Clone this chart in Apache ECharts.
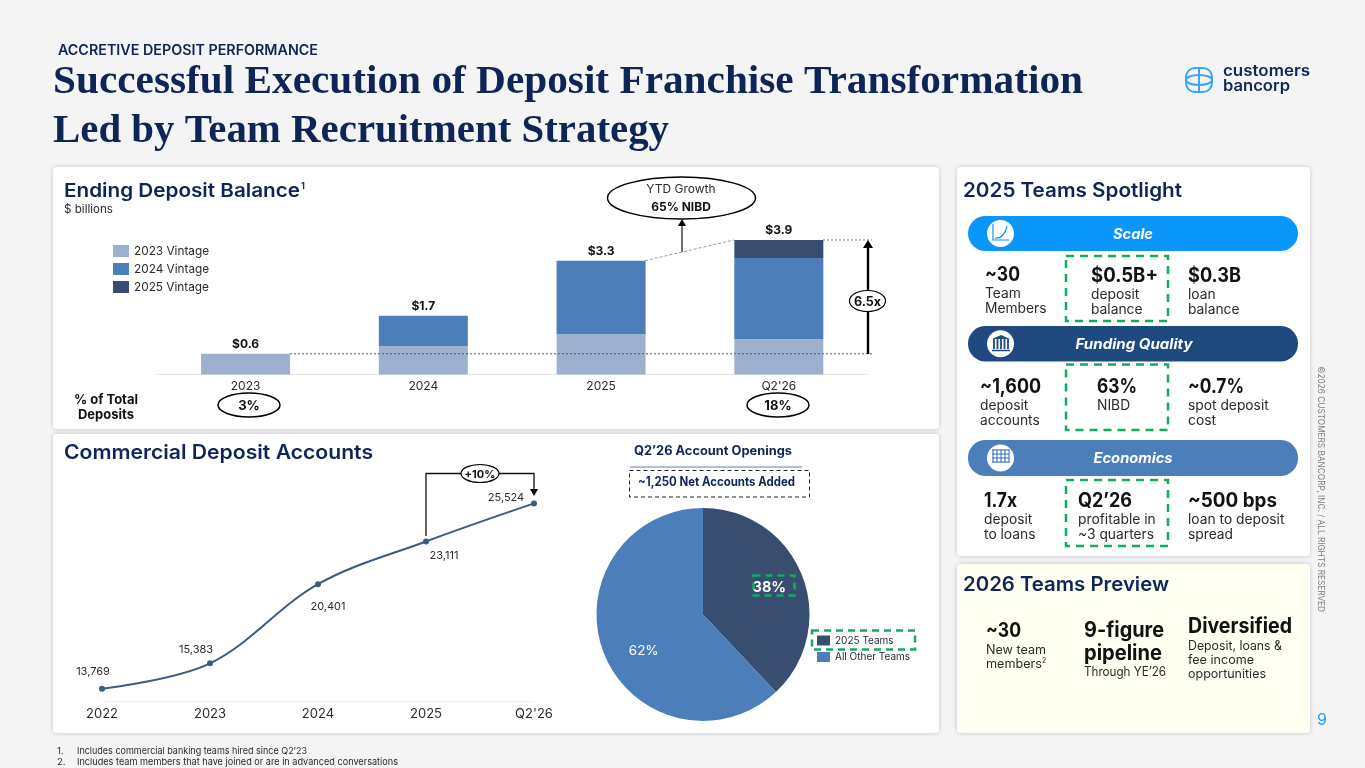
<!DOCTYPE html>
<html><head><meta charset="utf-8">
<style>html,body{margin:0;padding:0;background:#f4f4f4}#c{width:1365px;height:768px}</style>
<script src="https://cdn.jsdelivr.net/npm/echarts@6/dist/echarts.min.js"></script>
</head><body><div id="c"></div>
<script>
const barCategories = ['2023','2024','2025',"Q2'26"];
const vintage2023 = [0.6,0.82,1.17,1.03];
const vintage2024 = [0,0.88,2.13,2.35];
const vintage2025 = [0,0,0,0.52];
const barTotals = [0.6,1.7,3.3,3.9];
const lineCategories = ['2022','2023','2024','2025',"Q2'26"];
const accounts = [13769,15383,20401,23111,25524];
const pieNames = ['2025 Teams','All Other Teams'];
const pieValues = [38,62];

const NAVY='#0f2557', DARK='#384e70', BLUE='#4c7fba', LIGHT='#9db0ce', GREEN='#13ab5d', INK='#111111', SOFT='#2b2b2b';
const FF='Inter, "Open Sans", sans-serif';
const chart = echarts.init(document.getElementById('c'),null,{renderer:'canvas'});
const lineLabelOffset=[[-9,-5],[-14,-1],[10,35],[18,27],[-28,7]];

chart.setOption({
  animation:false,
  backgroundColor:'#f4f4f4',
  textStyle:{fontFamily:FF},
  legend:[
    {data:['2023 Vintage','2024 Vintage','2025 Vintage'],orient:'vertical',left:108,top:240,itemWidth:16,itemHeight:12,itemGap:6,icon:'rect',
     textStyle:{fontSize:11.8,color:SOFT,fontFamily:FF},selectedMode:false},
    {data:pieNames,orient:'vertical',left:812,top:630.5,itemWidth:13,itemHeight:10,itemGap:6.5,icon:'rect',
     textStyle:{fontSize:10,color:SOFT,fontFamily:FF},selectedMode:false}
  ],
  grid:[
    {left:156.7,top:202,width:711,height:172.5},
    {left:48,top:480,width:540,height:221.7}
  ],
  xAxis:[
    {type:'category',gridIndex:0,data:barCategories,axisTick:{show:false},axisLine:{lineStyle:{color:'#e6e6e6'}},
     axisLabel:{fontSize:12,color:SOFT,margin:6,fontFamily:FF}},
    {type:'category',gridIndex:1,data:lineCategories,axisTick:{show:false},axisLine:{show:false},
     axisLabel:{fontSize:13,color:SOFT,margin:6,fontFamily:FF}}
  ],
  yAxis:[
    {type:'value',gridIndex:0,min:0,max:5,show:false},
    {type:'value',gridIndex:1,min:12950,max:27009,show:false}
  ],
  series:[
    {name:'2023 Vintage',type:'bar',stack:'v',xAxisIndex:0,yAxisIndex:0,barWidth:89,data:vintage2023,itemStyle:{color:LIGHT}},
    {name:'2024 Vintage',type:'bar',stack:'v',xAxisIndex:0,yAxisIndex:0,barWidth:89,data:vintage2024,itemStyle:{color:BLUE}},
    {name:'2025 Vintage',type:'bar',stack:'v',xAxisIndex:0,yAxisIndex:0,barWidth:89,data:vintage2025,itemStyle:{color:DARK}},
    {name:'Total',type:'line',xAxisIndex:0,yAxisIndex:0,data:barTotals,symbol:'circle',symbolSize:1,showSymbol:true,
     itemStyle:{color:'rgba(0,0,0,0)'},lineStyle:{opacity:0},z:5,
     label:{show:true,position:'top',distance:3,fontSize:12,fontWeight:700,color:INK,fontFamily:FF,formatter:p=>'$'+p.value.toFixed(1)}},
    {name:'Accounts',type:'line',xAxisIndex:1,yAxisIndex:1,smooth:0.35,symbol:'circle',symbolSize:6,
     lineStyle:{color:'#3d5a80',width:2},itemStyle:{color:'#3d5a80'},
     data:accounts.map((v,i)=>({value:v,label:{offset:lineLabelOffset[i]}})),
     label:{show:true,position:'top',distance:4,fontSize:11,color:SOFT,fontFamily:FF,
       formatter:p=>p.value.toLocaleString('en-US')}},
    {name:'Openings',type:'pie',center:[703,614.4],radius:[0,106.5],startAngle:90,clockwise:true,silent:true,
     data:pieNames.map((n,i)=>({name:n,value:pieValues[i],itemStyle:{color:i?BLUE:DARK},
        label:i?{fontSize:13.5,fontWeight:400}:{fontSize:14.5,fontWeight:700}})),
     label:{show:true,position:'inside',formatter:p=>p.value+'%',color:'#fff',fontFamily:FF},
     labelLine:{show:false},
     labelLayout:p=>p.dataIndex===0?{dx:7,dy:-3}:{dx:-3.5,dy:8},
     emphasis:{disabled:true}}
  ]
});

const ctx=document.createElement('canvas').getContext('2d');
const g=[];
function T(x,y,text,size,weight,color,opt){
  opt=opt||{};
  const font=(opt.italic?'italic ':'')+weight+' '+size+'px '+(opt.ff||FF);
  let sx=1;
  if(opt.w){ctx.font=font;sx=opt.w/ctx.measureText(text).width;}
  g.push({type:'text',x:x+(opt.rot?0.8:0),y:y+(opt.rot?0:0.8),scaleX:sx,rotation:opt.rot||0,z:opt.z||60,silent:true,
    style:{text,font,fill:color,textAlign:opt.a||'left',textVerticalAlign:'middle',align:opt.a||'left',verticalAlign:'middle'}});
}
function R(x,y,w,h,r,fill,extra){
  g.push({type:'rect',z:(extra&&extra.z)||-5,silent:true,shape:{x,y,width:w,height:h,r},
    style:Object.assign({fill},extra&&extra.style||{})});
}
function dashBox(x,y,w,h,col,lw,dash){
  g.push({type:'rect',z:55,silent:true,shape:{x,y,width:w,height:h},style:{fill:'none',stroke:col,lineWidth:lw,lineDash:dash}});
}
function L(x1,y1,x2,y2,col,lw,dash,z){
  g.push({type:'line',z:z||40,silent:true,shape:{x1,y1,x2,y2},style:{stroke:col,lineWidth:lw,lineDash:dash||null}});
}
function E(cx,cy,rx,ry,lw){
  g.push({type:'ellipse',z:50,silent:true,shape:{cx,cy,rx,ry},style:{fill:'#fff',stroke:'#000',lineWidth:lw||1.5}});
}
function Tri(pts,fill){g.push({type:'polygon',z:45,silent:true,shape:{points:pts},style:{fill:fill||'#000'}});}
const shadow={shadowBlur:4,shadowColor:'rgba(60,70,100,0.28)',shadowOffsetY:0};
// panels
[[53,167,886,262,'#fff'],[53,434,886,299,'#fff'],[957,167,353,389,'#fff'],[957,564,353,169,'#fffff2']].forEach(p=>
  R(p[0],p[1],p[2],p[3],4,p[4],{style:shadow}));

// header
T(58,50,'ACCRETIVE DEPOSIT PERFORMANCE',14,600,NAVY,{w:260});
const SF='"Liberation Serif", serif';
T(53,82,'Successful Execution of Deposit Franchise Transformation',40,700,NAVY,{ff:SF,w:1030});
T(53,131,'Led by Team Recruitment Strategy',40,700,NAVY,{ff:SF,w:616});
// logo
const LB='#3aa6f5';
g.push({type:'rect',z:30,silent:true,shape:{x:1186,y:68,width:26,height:24,r:9},style:{fill:'none',stroke:LB,lineWidth:2}});
g.push({type:'ellipse',z:30,silent:true,shape:{cx:1199,cy:80,rx:13,ry:5},style:{fill:'none',stroke:LB,lineWidth:2}});
L(1199,68,1199,92,LB,2,null,30);
T(1223,71,'customers',15.5,600,NAVY,{w:87});
T(1223,86,'bancorp',15.5,600,NAVY,{w:67});

// panel 1
T(64,190,'Ending Deposit Balance',19,600,NAVY,{w:236});
T(301,185,'1',9,700,NAVY);
T(64,209,'$ billions',11.5,400,SOFT,{w:49});
T(106,399,'% of Total',13,700,INK,{a:'center'});
T(106,414,'Deposits',13,700,INK,{a:'center'});
E(249,405,31,12);T(249,405,'3%',13,700,INK,{a:'center'});
E(778,405,31,12);T(778,405,'18%',13,700,INK,{a:'center'});
const by=v=>chart.convertToPixel({yAxisIndex:0},v);
const y06=by(barTotals[0]), y33=by(barTotals[2]), y39=by(barTotals[3]);
L(290,y06,872,y06,'#4a5a78',1,[2,2]);
L(823,y39,872,y39,'#777',1,[2,2]);
L(645,y33,734,y39,'#999',1,[3,2]);
// YTD callout
L(682,252,682,226,'#222',1.3);Tri([[682,219],[678,226],[686,226]]);
E(681.5,198,74,21);
T(681,189,'YTD Growth',12,400,SOFT,{a:'center'});
T(681,207,'65% NIBD',12,700,INK,{a:'center'});
// 6.5x
L(868,354,868,246,'#000',2.4);Tri([[868,240],[863,248],[873,248]]);
E(867.5,301,18,10.5,1.2);T(867.5,301,'6.5x',12.5,700,INK,{a:'center'});

// panel 2
T(64,452,'Commercial Deposit Accounts',20,600,NAVY,{w:309});
L(102,701.7,534,701.7,'#ececec',1,null,3);
g.push({type:'polyline',z:40,silent:true,shape:{points:[[426,536],[426,473.5],[534,473.5],[534,489]]},style:{stroke:'#111',lineWidth:1.3,fill:'none'}});
Tri([[534,496],[530,489],[538,489]]);
E(480,473.5,19,9,1.2);T(480,473.5,'+10%',11,700,INK,{a:'center'});
T(634,450.5,"Q2\u201926 Account Openings",12.5,700,NAVY,{w:158});
L(630,467,802,467,'#3d5a8a',0.8);
dashBox(629.5,470.5,180,26.5,'#222',1,[4,3]);
T(638,481.5,'~1,250 Net Accounts Added',12.5,700,NAVY,{w:157});
dashBox(753.5,575.5,41,20,GREEN,2.5,[7,5]);
dashBox(812,630.5,103,19,GREEN,2.5,[7,5]);

// footnotes
T(57,750,'1.',9.5,400,SOFT);
T(77,750,"Includes commercial banking teams hired since Q2\u201923",9.5,400,SOFT,{w:230});
T(57,761,'2.',9.5,400,SOFT);
T(77,761,'Includes team members that have joined or are in advanced conversations',9.5,400,SOFT,{w:321});

// right panel
T(963,190,'2025 Teams Spotlight',19.5,600,NAVY,{w:219});
const pills=[[216,35,'#0a96fb','Scale',1133,40],[326,35.5,'#1f4a80','Funding Quality',1134,117],[440,36,'#4c7fba','Economics',1133,79]];
pills.forEach(p=>{
  R(968,p[0],330,p[1],17.5,p[2],{z:5});
  T(p[4],p[0]+p[1]/2,p[3],14,700,'#fff',{a:'center',italic:true,w:p[5]});
  g.push({type:'circle',z:10,silent:true,shape:{cx:1000.5,cy:p[0]+p[1]/2,r:13.5},style:{fill:'#fff'}});
});
// icons
g.push({type:'polyline',z:12,silent:true,shape:{points:[[993,224],[993,240],[1009,240]]},style:{stroke:'#0a96fb',lineWidth:1.2,fill:'none'}});
g.push({type:'polyline',z:12,silent:true,shape:{smooth:0.5,points:[[995,238],[1002,236],[1007,226]]},style:{stroke:'#0a96fb',lineWidth:1.2,fill:'none'}});
[994,997.5,1001,1004.5,1008].forEach(x=>L(x,339,x,349,'#1f4a80',1.8,null,12));
Tri([[1001,335],[992,339],[1010,339]],'#1f4a80');L(992,350.5,1010,350.5,'#1f4a80',1.5,null,12);
[450,454,458,462].forEach(y=>L(992,y,1009,y,'#4c7fba',1.2,null,12));
[993,997,1001,1005,1009].forEach(x=>L(x,449,x,463,'#4c7fba',1.2,null,12));

dashBox(1066,256,102,65,GREEN,2.5,[8,6]);
dashBox(1066,364.5,102,65.5,GREEN,2.5,[8,6]);
dashBox(1066,480,102,66,GREEN,2.5,[8,6]);

const BIG=19.5, SM=13.8;
function stat(x,yb,big,lines,wb){
  T(x,yb,big,BIG,700,INK,{w:wb});
  lines.forEach((s,i)=>T(x,yb+19+i*15.5,s,SM,400,SOFT));
}
stat(985,274,'~30',['Team','Members'],35);
stat(1091,275,'$0.5B+',['deposit','balance'],67);
stat(1188,275,'$0.3B',['loan','balance'],53);
stat(980,386,'~1,600',['deposit','accounts'],61);
stat(1097,386,'63%',['NIBD'],40);
stat(1188,386,'~0.7%',['spot deposit','cost'],56);
stat(984,500,'1.7x',['deposit','to loans'],33);
stat(1078,500,'Q2\u201926',['profitable in','~3 quarters'],54);
stat(1188,500,'~500 bps',['loan to deposit','spread'],89);

// 2026 panel
T(963,584,'2026 Teams Preview',19.5,600,NAVY,{w:206});
T(986,630,'~30',19.5,700,INK,{w:35});
T(986,649,'New team',12.5,400,SOFT,{w:60});
T(986,663.5,'members',12.5,400,SOFT,{w:56});
T(1042,660,'2',7,400,SOFT);
T(1084,630,'9-figure',21,700,INK,{w:80});
T(1084,653,'pipeline',21,700,INK,{w:78});
T(1084,671.5,"Through YE\u201926",12.5,400,SOFT,{w:82});
T(1188,626,'Diversified',21,700,INK,{w:104});
T(1188,645,'Deposit, loans &',12.5,400,SOFT,{w:94});
T(1188,659,'fee income',12.5,400,SOFT,{w:66});
T(1188,673.5,'opportunities',12.5,400,SOFT,{w:78});

// side
T(1320,366,'\u00A92026 CUSTOMERS BANCORP, INC. / ALL RIGHTS RESERVED',9,400,'#7d7d7d',{rot:-Math.PI/2,w:246});
T(1322,719.5,'9',16,400,'#2a9df4',{a:'center'});

chart.setOption({graphic:{elements:g}});
</script></body></html>
